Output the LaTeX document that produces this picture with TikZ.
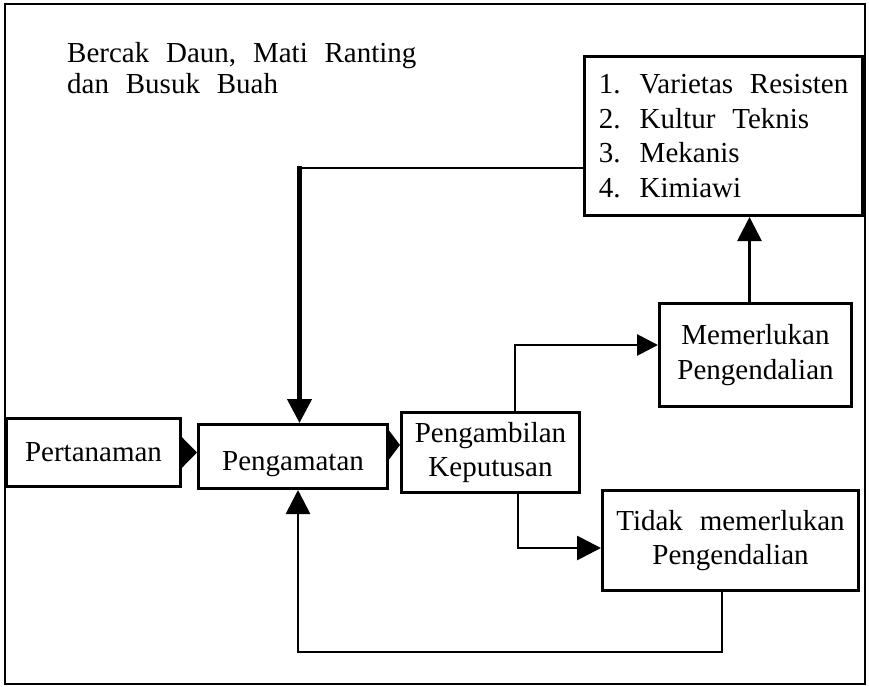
\documentclass[tikz,border=0pt]{standalone}
\usepackage{fontspec}
\setmainfont{Liberation Serif}
\usetikzlibrary{arrows.meta,calc}
\newcommand\dfont{\fontsize{29}{34.5}\selectfont\spaceskip=0.58em\relax}
\newcommand\tfont{\fontsize{29}{31}\selectfont\spaceskip=0.58em\relax}
\begin{document}
\begin{tikzpicture}[x=1pt,y=-1pt,
  box/.style={draw,line width=3pt,align=center,inner sep=0pt,font=\dfont},
  conn/.style={line width=2.8pt},
  tipa/.style={conn,-{Triangle[length=24pt,width=24pt]}}]
\fill[white] (0,0) rectangle (869,687);
\useasboundingbox (0,0) rectangle (869,687);
\draw[line width=2.5pt] (5,4) rectangle (865,684);

\node[anchor=base west,align=left,inner sep=0pt,font=\tfont] (title) at (67,94)
  {Bercak Daun, Mati Ranting\\dan Busuk Buah};

\node[box,minimum width=174pt,minimum height=68pt] (pert) at (93.5,452.5) {Pertanaman};
\node[box,minimum width=189pt,minimum height=64pt,text height=28pt,text depth=0pt] (peng) at (293,456.5) {Pengamatan};
\node[box,minimum width=178pt,minimum height=80pt] (ambil) at (490.5,452.5) {Pengambilan\\Keputusan};
\node[box,minimum width=192pt,minimum height=103pt] (memer) at (755.5,355) {Memerlukan\\Pengendalian};
\node[box,minimum width=256pt,minimum height=100pt] (tidak) at (730.5,540.5) {Tidak memerlukan\\Pengendalian};
\node[box,align=left,minimum width=278pt,minimum height=159pt] (list) at (723.5,136)
  {1. Varietas Resisten\\2. Kultur Teknis\\3. Mekanis\\4. Kimiawi};

% Pertanaman -> Pengamatan
\draw[conn,-{Triangle[length=16pt,width=32pt]}] (pert.east) -- (pert.east -| peng.west);
% Pengamatan -> Pengambilan Keputusan
\coordinate (a2) at ($(ambil.west)+(0,-7.5)$);
\draw[conn,-{Triangle[length=13pt,width=34pt]}] (peng.east |- a2) -- (a2);
% Pengambilan -> Memerlukan
\coordinate (a3) at ($(ambil.north)+(24.5,0)$);
\coordinate (b3) at ($(memer.west)+(0,-10)$);
\draw[conn,-{Triangle[length=21pt,width=21pt]}] (a3) |- (b3);
% Pengambilan -> Tidak memerlukan
\coordinate (a4) at ($(ambil.south)+(27.5,0)$);
\coordinate (b4) at ($(tidak.west)+(0,7.5)$);
\draw[tipa] (a4) |- (b4);
% Memerlukan -> list
\coordinate (a5) at ($(memer.north)+(-6,0)$);
\draw[tipa] (a5) -- (a5 |- list.south);
% list -> Pengamatan
\coordinate (a6) at ($(list.west)+(0,32)$);
\coordinate (b6) at ($(peng.north)+(6.5,0)$);
\coordinate (c6) at (b6 |- a6);
\draw[conn] (a6) -- (c6);
\draw[line width=4.5pt,-{Triangle[length=24pt,width=24pt]}] ($(c6)+(0,-1.5)$) -- (b6);
% Tidak memerlukan -> Pengamatan
\coordinate (a7) at ($(tidak.south)+(-8.5,0)$);
\coordinate (b7) at ($(peng.south)+(5,0)$);
\coordinate (low) at (0,652);
\draw[tipa] (a7) |- (low -| b7) -- (b7);
\end{tikzpicture}
\end{document}
